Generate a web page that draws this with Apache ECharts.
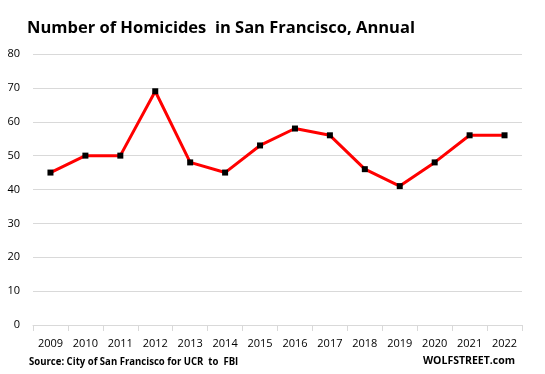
<!DOCTYPE html>
<html><head><meta charset="utf-8">
<script src="https://cdn.jsdelivr.net/npm/echarts@6/dist/echarts.min.js"></script>
<style>html,body{margin:0;padding:0;background:#fff}#c{width:545px;height:374px}</style>
</head><body><div id="c"></div>
<script>
const years = ['2009','2010','2011','2012','2013','2014','2015','2016','2017','2018','2019','2020','2021','2022'];
const homicides = [45,50,50,69,48,45,53,58,56,46,41,48,56,56];
const titleText = 'Number of Homicides  in San Francisco, Annual';
const sourceText = 'Source: City of San Francisco for UCR  to  FBI';
const brandText = 'WOLFSTREET.com';

const chart = echarts.init(document.getElementById('c'), null, {renderer:'canvas'});
chart.setOption({
  backgroundColor:'#fff',
  animation:false,
  title:{text:titleText,left:22,top:15,textStyle:{fontFamily:'Open Sans',fontWeight:'bold',fontSize:16.5,color:'#000'}},
  graphic:[
    {type:'text',x:29,y:356,scaleX:0.87,style:{text:sourceText,x:0,y:0,fontFamily:'Open Sans',fontWeight:'bold',fontSize:11,fill:'#000',verticalAlign:'top'}},
    {type:'text',x:515,y:356,style:{text:brandText,x:0,y:0,align:'right',fontFamily:'Open Sans',fontWeight:'bold',fontSize:10.5,fill:'#000',verticalAlign:'top'}}
  ],
  grid:{left:33,right:23,top:54,bottom:49},
  xAxis:{type:'category',data:years,boundaryGap:true,
    axisLine:{lineStyle:{color:'#d9d9d9'}},
    axisTick:{show:true,length:6,lineStyle:{color:'#d9d9d9'}},
    axisLabel:{color:'#000',fontFamily:'Open Sans',fontSize:11,margin:13}},
  yAxis:{type:'value',min:0,max:80,interval:10,
    axisLine:{show:false},axisTick:{show:false},
    splitLine:{lineStyle:{color:'#d9d9d9',width:1}},
    axisLabel:{color:'#000',fontFamily:'Open Sans',fontSize:11,margin:13}},
  series:[{type:'line',data:homicides,symbol:'rect',symbolSize:6,
    lineStyle:{color:'#ff0000',width:3},
    itemStyle:{color:'#000',borderWidth:0}}]
});
</script></body></html>
